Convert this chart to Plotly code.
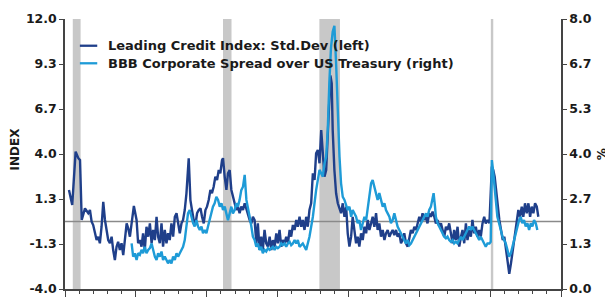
import plotly.graph_objects as go

# ---------------- data ----------------
lci_years = [
    1990.28, 1990.51, 1990.75, 1990.94, 1991.06, 1991.18, 1991.41, 1991.64, 1991.76, 1991.88,
    1991.99, 1992.11, 1992.23, 1992.35, 1992.46, 1992.58, 1992.70, 1992.82, 1992.94, 1993.05,
    1993.17, 1993.29, 1993.40, 1993.52, 1993.64, 1993.75, 1993.87, 1993.99, 1994.11, 1994.23,
    1994.35, 1994.46, 1994.58, 1994.70, 1994.86, 1995.05, 1995.16, 1995.28, 1995.40, 1995.51,
    1995.63, 1995.75, 1995.87, 1995.99, 1996.11, 1996.22, 1996.34, 1996.46, 1996.57, 1996.69,
    1996.81, 1996.92, 1997.04, 1997.16, 1997.27, 1997.39, 1997.51, 1997.63, 1997.75, 1997.87,
    1997.98, 1998.10, 1998.22, 1998.33, 1998.45, 1998.57, 1998.73, 1998.85, 1998.96, 1999.08,
    1999.20, 1999.32, 1999.44, 1999.56, 1999.67, 1999.79, 1999.91, 2000.02, 2000.14, 2000.26,
    2000.37, 2000.49, 2000.61, 2000.73, 2000.85, 2000.96, 2001.08, 2001.15, 2001.27, 2001.39,
    2001.50, 2001.62, 2001.74, 2001.85, 2001.97, 2002.09, 2002.20, 2002.32, 2002.44, 2002.56,
    2002.68, 2002.80, 2002.91, 2003.03, 2003.15, 2003.26, 2003.38, 2003.50, 2003.61, 2003.73,
    2003.85, 2003.96, 2004.08, 2004.20, 2004.32, 2004.44, 2004.56, 2004.67, 2004.79, 2004.91,
    2005.02, 2005.14, 2005.26, 2005.37, 2005.49, 2005.61, 2005.73, 2005.85, 2005.96, 2006.08,
    2006.20, 2006.32, 2006.43, 2006.55, 2006.67, 2006.78, 2006.90, 2007.02, 2007.13, 2007.25,
    2007.37, 2007.49, 2007.61, 2007.72, 2007.84, 2007.96, 2008.08, 2008.19, 2008.31, 2008.43,
    2008.54, 2008.66, 2008.73, 2008.82, 2008.89, 2009.01, 2009.13, 2009.25, 2009.37, 2009.48,
    2009.60, 2009.72, 2009.84, 2009.95, 2010.07, 2010.19, 2010.30, 2010.42, 2010.54, 2010.65,
    2010.77, 2010.89, 2011.01, 2011.13, 2011.25, 2011.36, 2011.48, 2011.60, 2011.71, 2011.83,
    2011.95, 2012.06, 2012.18, 2012.30, 2012.42, 2012.54, 2012.65, 2012.77, 2012.89, 2013.00,
    2013.12, 2013.24, 2013.36, 2013.47, 2013.59, 2013.71, 2013.82, 2013.94, 2014.06, 2014.18,
    2014.30, 2014.41, 2014.53, 2014.65, 2014.77, 2014.88, 2015.00, 2015.12, 2015.23, 2015.35,
    2015.47, 2015.58, 2015.70, 2015.82, 2015.94, 2016.06, 2016.17, 2016.29, 2016.41, 2016.53,
    2016.64, 2016.76, 2016.88, 2016.99, 2017.11, 2017.23, 2017.35, 2017.46, 2017.58, 2017.70,
    2017.82, 2017.94, 2018.05, 2018.17, 2018.29, 2018.40, 2018.52, 2018.64, 2018.75, 2018.87,
    2018.99, 2019.11, 2019.23, 2019.34, 2019.46, 2019.58, 2019.69, 2019.81, 2019.95, 2020.12,
    2020.22, 2020.32, 2020.42, 2020.53, 2020.65, 2020.77, 2020.89, 2021.00, 2021.12, 2021.24,
    2021.35, 2021.47, 2021.59, 2021.71, 2021.88, 2021.99, 2022.11, 2022.23, 2022.34, 2022.46,
    2022.58, 2022.70, 2022.82, 2022.93, 2023.05, 2023.17, 2023.29, 2023.40,
]
lci_values = [
    1.87, 0.98, 4.14, 3.75, 3.64, 0.09, 0.78, 0.49, 0.68, -0.01,
    -0.21, -0.70, -1.10, -0.90, -1.29, -0.31, 1.17, 0.09, -0.50, -1.10,
    -1.29, -0.90, -1.69, -2.28, -1.49, -1.20, -1.69, -1.29, -1.99, -0.90,
    -0.11, -0.40, -0.90, -0.11, 0.92, 0.09, -1.29, -1.10, -1.49, -0.70,
    -1.69, -0.31, -0.90, -0.11, -1.29, -0.50, -1.10, 0.28, -0.90, -1.29,
    -0.11, -1.49, -0.50, -1.29, -0.70, -1.10, -0.11, -0.90, 0.28, 0.49,
    -0.21, -0.70, -0.11, 0.09, 0.68, 1.67, 3.75, 1.27, 0.68, 0.09,
    -0.21, 0.49, 0.68, 0.78, 0.28, -0.11, 0.68, 0.88, 1.27, 1.87,
    1.67, 2.06, 2.65, 2.46, 3.05, 2.86, 3.64, 3.75, 2.65, 1.87,
    2.86, 3.05, 1.87, 1.47, 1.08, 0.68, 0.88, 0.49, 0.88, 0.68,
    1.08, 0.68, 0.49, 0.09, -0.11, 0.28, 0.09, -1.29, -0.11, -1.69,
    -0.90, -1.69, -0.50, -1.29, -1.49, -0.90, -1.69, -1.10, -1.49, -0.70,
    -1.29, -0.50, -1.49, -1.10, -1.29, -0.90, -1.29, -0.50, -0.90, -0.21,
    -0.50, 0.09, -0.31, 0.28, -0.31, 0.09, -0.50, 0.28, -0.31, 0.68,
    1.08, 2.86, 2.46, 4.04, 4.24, 3.45, 5.42, 4.24, 2.65, 3.05,
    5.42, 7.40, 8.65, 8.19, 5.42, 3.05, 1.67, 1.08, 0.68, 0.49,
    1.08, 0.28, 0.88, -0.70, -1.49, -0.90, 0.28, -0.50, -1.29, -0.90,
    -1.49, -0.70, -1.10, -0.31, -0.70, 0.09, -0.50, -0.11, 0.28, -0.31,
    0.49, -0.50, -0.11, -0.90, -0.50, -1.10, -0.70, -0.50, -0.90, -0.70,
    -0.50, -0.80, -0.50, -0.90, -0.70, -1.29, -1.10, -0.70, -1.29, -1.49,
    -0.90, -0.50, -0.70, -0.31, -0.50, -0.11, 0.28, -0.01, 0.49, 0.09,
    0.28, -0.11, 0.49, 0.28, 0.58, 0.28, -0.11, 0.09, -0.31, -0.11,
    -0.50, -0.90, -0.31, -0.50, -0.11, -0.70, -1.29, -0.50, -1.10, -0.31,
    -1.49, -0.90, -0.50, -1.29, -0.11, -1.10, -0.50, -0.90, 0.09, -0.70,
    -0.31, -0.90, -0.50, -0.90, -0.11, 0.28, -0.11, 0.09, -0.10, 3.25,
    3.05, 2.65, 1.87, 0.68, 0.09, -0.50, -1.10, -0.90, -1.69, -2.28,
    -3.10, -2.48, -1.69, -0.90, -0.11, 0.68, 0.28, 0.88, 0.28, 1.08,
    0.49, 1.08, 0.28, 0.88, 0.49, 1.08, 0.88, 0.28,
]

bbb_years = [
    1994.70, 1994.81, 1994.93, 1995.05, 1995.16, 1995.28, 1995.40, 1995.51, 1995.63, 1995.75,
    1995.87, 1995.99, 1996.11, 1996.22, 1996.34, 1996.46, 1996.57, 1996.69, 1996.81, 1996.92,
    1997.04, 1997.16, 1997.27, 1997.39, 1997.51, 1997.63, 1997.75, 1997.87, 1997.98, 1998.10,
    1998.22, 1998.33, 1998.45, 1998.57, 1998.68, 1998.80, 1998.92, 1999.04, 1999.15, 1999.27,
    1999.39, 1999.51, 1999.63, 1999.74, 1999.86, 1999.98, 2000.09, 2000.21, 2000.33, 2000.44,
    2000.56, 2000.68, 2000.80, 2000.92, 2001.04, 2001.15, 2001.27, 2001.39, 2001.50, 2001.62,
    2001.74, 2001.85, 2001.97, 2002.09, 2002.20, 2002.32, 2002.44, 2002.56, 2002.68, 2002.80,
    2002.91, 2003.03, 2003.15, 2003.26, 2003.38, 2003.50, 2003.61, 2003.73, 2003.85, 2003.96,
    2004.08, 2004.20, 2004.32, 2004.44, 2004.56, 2004.67, 2004.79, 2004.91, 2005.02, 2005.14,
    2005.26, 2005.37, 2005.49, 2005.61, 2005.73, 2005.85, 2005.96, 2006.08, 2006.20, 2006.32,
    2006.43, 2006.55, 2006.78, 2007.02, 2007.25, 2007.49, 2007.72, 2007.96, 2008.19, 2008.31,
    2008.43, 2008.54, 2008.66, 2008.77, 2008.89, 2009.01, 2009.13, 2009.25, 2009.37, 2009.48,
    2009.60, 2009.72, 2009.84, 2009.95, 2010.07, 2010.19, 2010.30, 2010.42, 2010.54, 2010.65,
    2010.77, 2010.89, 2011.01, 2011.13, 2011.25, 2011.36, 2011.48, 2011.60, 2011.71, 2011.83,
    2011.95, 2012.06, 2012.18, 2012.30, 2012.42, 2012.54, 2012.65, 2012.77, 2012.89, 2013.00,
    2013.12, 2013.24, 2013.36, 2013.47, 2013.59, 2013.71, 2013.82, 2013.94, 2014.06, 2014.18,
    2014.30, 2014.41, 2014.53, 2014.65, 2014.77, 2014.88, 2015.00, 2015.12, 2015.23, 2015.35,
    2015.47, 2015.58, 2015.70, 2015.82, 2015.94, 2016.01, 2016.11, 2016.17, 2016.29, 2016.41,
    2016.53, 2016.64, 2016.76, 2016.88, 2016.99, 2017.11, 2017.23, 2017.35, 2017.46, 2017.58,
    2017.70, 2017.82, 2017.94, 2018.05, 2018.17, 2018.29, 2018.40, 2018.52, 2018.64, 2018.75,
    2018.87, 2018.99, 2019.11, 2019.23, 2019.34, 2019.46, 2019.58, 2019.69, 2019.81, 2019.95,
    2020.04, 2020.12, 2020.20, 2020.30, 2020.40, 2020.51, 2020.63, 2020.75, 2020.87, 2020.99,
    2021.10, 2021.22, 2021.34, 2021.46, 2021.57, 2021.69, 2021.81, 2021.92, 2022.04, 2022.16,
    2022.27, 2022.39, 2022.51, 2022.63, 2022.75, 2022.87, 2022.98, 2023.10, 2023.22, 2023.33,
]
bbb_values = [
    1.35, 0.96, 1.06, 0.86, 1.06, 1.01, 1.16, 1.06, 1.25, 1.06,
    1.16, 1.21, 1.35, 1.16, 0.96, 0.86, 1.06, 0.96, 1.11, 0.86,
    0.96, 0.86, 0.76, 0.86, 0.76, 0.96, 0.86, 1.06, 0.96, 1.06,
    1.16, 1.25, 1.45, 1.85, 2.24, 2.34, 2.14, 1.95, 1.85, 2.04,
    1.85, 1.75, 1.85, 1.65, 1.75, 1.65, 1.85, 2.04, 2.24, 2.44,
    2.54, 2.73, 2.64, 2.44, 2.54, 2.34, 2.44, 2.24, 2.04, 2.24,
    2.44, 2.24, 2.34, 2.54, 2.44, 2.64, 2.93, 3.03, 3.38, 2.64,
    2.34, 2.14, 1.85, 1.55, 1.45, 1.25, 1.35, 1.16, 1.25, 1.06,
    1.16, 1.11, 1.21, 1.16, 1.21, 1.25, 1.16, 1.25, 1.21, 1.25,
    1.35, 1.30, 1.35, 1.25, 1.35, 1.40, 1.30, 1.35, 1.45, 1.35,
    1.45, 1.25, 1.35, 1.16, 1.55, 2.14, 2.93, 3.53, 3.33, 3.72,
    3.92, 4.71, 6.19, 7.15, 7.62, 7.80, 6.69, 5.21, 3.92, 3.13,
    2.73, 2.64, 2.44, 2.34, 2.44, 2.14, 2.34, 2.24, 2.14, 1.95,
    2.04, 1.75, 1.95, 2.14, 2.04, 2.34, 2.73, 3.13, 3.23, 3.03,
    2.84, 2.64, 2.84, 2.64, 2.44, 2.54, 2.34, 2.24, 2.14, 1.95,
    2.04, 2.24, 2.04, 1.85, 1.75, 1.65, 1.55, 1.45, 1.35, 1.45,
    1.30, 1.35, 1.45, 1.55, 1.65, 1.75, 1.85, 1.95, 2.04, 2.14,
    2.24, 2.14, 2.34, 2.44, 2.64, 2.84, 2.44, 2.14, 1.95, 1.85,
    1.75, 1.65, 1.55, 1.50, 1.55, 1.45, 1.40, 1.45, 1.35, 1.40,
    1.35, 1.45, 1.55, 1.45, 1.55, 1.65, 1.75, 1.85, 1.75, 1.85,
    1.75, 1.65, 1.55, 1.45, 1.55, 1.45, 1.35, 1.25, 1.35, 1.35,
    1.40, 3.82, 3.53, 3.03, 2.54, 2.14, 1.95, 1.75, 1.55, 1.45,
    1.35, 1.16, 0.96, 1.06, 1.25, 1.45, 1.65, 1.85, 2.04, 2.14,
    1.95, 2.04, 1.85, 1.95, 1.75, 1.95, 1.85, 2.04, 1.95, 1.75,
]

recession_starts = [1990.55, 2001.15, 2007.95, 2020.05]
recession_ends = [1991.10, 2001.75, 2009.40, 2020.22]

left_tick_vals = [-4, -4 + 16 / 6, -4 + 32 / 6, 4, -4 + 64 / 6, -4 + 80 / 6, 12]
left_tick_text = ["-4.0", "-1.3", "1.3", "4.0", "6.7", "9.3", "12.0"]
right_tick_vals = [0, 8 / 6, 16 / 6, 4, 32 / 6, 40 / 6, 8]
right_tick_text = ["0.0", "1.3", "2.7", "4.0", "5.3", "6.7", "8.0"]

series_names = ["Leading Credit Index: Std.Dev (left)",
                "BBB Corporate Spread over US Treasury (right)"]
axis_titles = ["INDEX", "%"]

DARK = "#1f3f8a"
LIGHT = "#1e9bd7"
AXIS = "#444444"
TEXT = "#1a1a1a"
FONT = "DejaVu Sans, Liberation Sans, Arial, sans-serif"

fig = go.Figure()
fig.add_trace(go.Scatter(x=bbb_years, y=bbb_values, name=series_names[1], mode="lines",
                         line=dict(color=LIGHT, width=2.4), yaxis="y2", showlegend=False))
fig.add_trace(go.Scatter(x=lci_years, y=lci_values, name=series_names[0], mode="lines",
                         line=dict(color=DARK, width=2.4), yaxis="y", showlegend=False))

shapes = []
for s, e in zip(recession_starts, recession_ends):
    shapes.append(dict(type="rect", xref="x", yref="paper", x0=s, x1=e, y0=0, y1=1,
                       fillcolor="#c8c8c8", line=dict(width=0), layer="below"))
shapes.append(dict(type="line", xref="paper", yref="y", x0=0, x1=1, y0=0, y1=0,
                   line=dict(color="#8a8a8a", width=1.5), layer="below"))

# legend drawn as line samples + text labels (compact, like the original)
legend_rows = [0.901, 0.836]
legend_colors = [DARK, LIGHT]
annotations = []
for name, col, yy in zip(series_names, legend_colors, legend_rows):
    shapes.append(dict(type="line", xref="paper", yref="paper", x0=0.030, x1=0.065,
                       y0=yy, y1=yy, line=dict(color=col, width=2.3)))
    annotations.append(dict(text=name, xref="paper", yref="paper", x=0.083, y=yy,
                            xanchor="left", yanchor="middle", showarrow=False,
                            font=dict(family=FONT, size=13, color=TEXT, weight="bold")))

annotations.append(dict(text=axis_titles[0], xref="paper", yref="paper", x=-0.101, y=0.52,
                        xanchor="center", yanchor="middle", showarrow=False, textangle=-90,
                        font=dict(family=FONT, size=12, color=TEXT, weight="bold")))
annotations.append(dict(text=axis_titles[1], xref="paper", yref="paper", x=1.083, y=0.50,
                        xanchor="center", yanchor="middle", showarrow=False, textangle=-90,
                        font=dict(family=FONT, size=12, color=TEXT, weight="bold")))

tickfont = dict(family=FONT, size=12.5, color=TEXT, weight="bold")

# the page adds an 8 px body margin, so the figure is 8 px smaller and margins shifted
fig.update_layout(
    width=605, height=290,
    margin=dict(l=57, r=52, t=11, b=9, autoexpand=False),
    plot_bgcolor="white", paper_bgcolor="white",
    shapes=shapes, annotations=annotations,
    showlegend=False,
    xaxis=dict(range=[1990, 2025], showgrid=False, zeroline=False, automargin=False,
               showline=True, linecolor=AXIS, linewidth=1.5,
               ticks="outside", tick0=1990, dtick=5, ticklen=6, tickcolor=AXIS,
               showticklabels=False,
               minor=dict(dtick=1, ticks="outside", ticklen=3, tickcolor=AXIS)),
    yaxis=dict(range=[-4, 12], showgrid=False, zeroline=False, automargin=False,
               showline=True, linecolor=AXIS, linewidth=1.5,
               ticks="outside", ticklen=4, tickcolor=AXIS,
               tickvals=left_tick_vals, ticktext=left_tick_text, tickfont=tickfont),
    yaxis2=dict(range=[0, 8], overlaying="y", side="right", showgrid=False, zeroline=False,
                automargin=False, showline=True, linecolor=AXIS, linewidth=1.5,
                ticks="outside", ticklen=4, tickcolor=AXIS,
                tickvals=right_tick_vals, ticktext=right_tick_text, tickfont=tickfont),
)

fig.write_html("out.html")
